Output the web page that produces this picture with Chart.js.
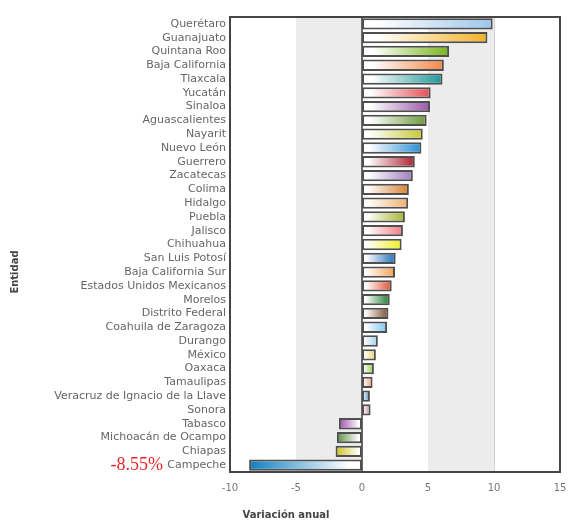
<!DOCTYPE html>
<html>
<head>
<meta charset="utf-8">
<script src="https://cdn.jsdelivr.net/npm/chart.js@4/dist/chart.umd.min.js"></script>
<style>
  html, body { margin: 0; padding: 0; background: #fff; }
  #wrap { width: 571px; height: 523px; position: relative; }
</style>
</head>
<body>
<div id="wrap"><canvas id="chartVariacion"></canvas></div>
<script>
const entidades = [
  'Querétaro', 'Guanajuato', 'Quintana Roo', 'Baja California', 'Tlaxcala',
  'Yucatán', 'Sinaloa', 'Aguascalientes', 'Nayarit', 'Nuevo León',
  'Guerrero', 'Zacatecas', 'Colima', 'Hidalgo', 'Puebla', 'Jalisco',
  'Chihuahua', 'San Luis Potosí', 'Baja California Sur',
  'Estados Unidos Mexicanos', 'Morelos', 'Distrito Federal',
  'Coahuila de Zaragoza', 'Durango', 'México', 'Oaxaca', 'Tamaulipas',
  'Veracruz de Ignacio de la Llave', 'Sonora', 'Tabasco',
  'Michoacán de Ocampo', 'Chiapas', 'Campeche'
];

const variacion = [
  9.9, 9.5, 6.6, 6.2, 6.1,
  5.2, 5.15, 4.9, 4.6, 4.5,
  4.0, 3.85, 3.55, 3.5, 3.25, 3.1,
  3.0, 2.55, 2.5,
  2.25, 2.1, 2.0,
  1.9, 1.2, 1.05, 0.9, 0.8,
  0.6, 0.65, -1.75,
  -1.9, -2.0, -8.55
];

const colores = [
  '#9cc6ec', '#f4b128', '#78b51c', '#f4884a', '#1d9797',
  '#e04f55', '#9a58a8', '#6b9a3a', '#c8c832', '#2a8fd8',
  '#ae1f30', '#a07fc2', '#d8802e', '#f0b06e', '#a6b52e', '#f07d82',
  '#eeee22', '#1f6fc0', '#f5a04e',
  '#de4f30', '#1f7f30', '#7e4f30',
  '#7ec6ee', '#9ecdee', '#eecf6e', '#8fce40', '#f0a06e',
  '#2f7fbf', '#cf7f90', '#a04fb0',
  '#5f8f40', '#d0bf20', '#0f7fbf'
];

const ticksX = [-10, -5, 0, 5, 10, 15];
const bandas = [[-5, 0], [5, 10]];

// fondo con franjas grises, marco y textos sueltos
const fondoPlugin = {
  id: 'fondo',
  beforeDatasetsDraw(chart) {
    const { ctx, chartArea, scales } = chart;
    ctx.save();
    for (const [a, b] of bandas) {
      const xa = scales.x.getPixelForValue(a);
      const xb = scales.x.getPixelForValue(b);
      ctx.fillStyle = '#ececec';
      ctx.fillRect(xa, chartArea.top, xb - xa, chartArea.bottom - chartArea.top);
      ctx.strokeStyle = '#d2d2d2';
      ctx.lineWidth = 1;
      ctx.beginPath();
      ctx.moveTo(Math.round(xb) + 0.5, chartArea.top);
      ctx.lineTo(Math.round(xb) + 0.5, chartArea.bottom);
      ctx.stroke();
    }
    // linea del cero
    const x0 = scales.x.getPixelForValue(0);
    ctx.strokeStyle = '#6a6a6a';
    ctx.lineWidth = 2;
    ctx.beginPath();
    ctx.moveTo(x0, chartArea.top);
    ctx.lineTo(x0, chartArea.bottom);
    ctx.stroke();
    ctx.restore();
  },
  afterDraw(chart) {
    const { ctx, chartArea, scales } = chart;
    ctx.save();
    ctx.strokeStyle = '#454545';
    ctx.lineWidth = 2;
    ctx.strokeRect(chartArea.left, chartArea.top, chartArea.right - chartArea.left, chartArea.bottom - chartArea.top);

    // titulos de ejes
    ctx.fillStyle = '#444';
    ctx.font = 'bold 10px "DejaVu Sans"';
    ctx.textAlign = 'center';
    ctx.textBaseline = 'middle';
    ctx.fillText('Variación anual', 286, 515);
    ctx.translate(15, 272);
    ctx.rotate(-Math.PI / 2);
    ctx.fillText('Entidad', 0, 0);
    ctx.restore();

    // etiqueta roja del valor minimo
    ctx.save();
    const i = entidades.length - 1;
    const y = scales.y.getPixelForValue(i);
    ctx.fillStyle = '#e8262a';
    ctx.font = '18px "Liberation Serif"';
    ctx.textAlign = 'right';
    ctx.textBaseline = 'middle';
    ctx.fillText(variacion[i].toFixed(2) + '%', 163, y);
    ctx.restore();
  }
};

const gradienteBarra = (c) => {
  const chart = c.chart;
  const i = c.dataIndex;
  if (!chart.chartArea || i === undefined) return colores[i] || '#999';
  const x = chart.scales.x;
  const x0 = x.getPixelForValue(0);
  const x1 = x.getPixelForValue(variacion[i]);
  const g = chart.ctx.createLinearGradient(x0, 0, x1 === x0 ? x0 + 1 : x1, 0);
  g.addColorStop(0, '#ffffff');
  g.addColorStop(0.12, '#ffffff');
  g.addColorStop(1, colores[i]);
  return g;
};

const initChartVariacion = () => {
  const ctx = document.getElementById('chartVariacion').getContext('2d');
  return new Chart(ctx, {
    type: 'bar',
    data: {
      labels: entidades,
      datasets: [{
        data: variacion,
        backgroundColor: gradienteBarra,
        borderColor: '#4f4f4f',
        borderWidth: 2,
        borderSkipped: false,
        barPercentage: 0.82,
        categoryPercentage: 1
      }]
    },
    options: {
      indexAxis: 'y',
      responsive: true,
      maintainAspectRatio: false,
      animation: false,
      layout: { padding: { top: 17, right: 11, left: 0, bottom: 0 } },
      plugins: { legend: { display: false }, tooltip: { enabled: false } },
      scales: {
        x: {
          min: -10,
          max: 15,
          afterBuildTicks: (s) => { s.ticks = ticksX.map(v => ({ value: v })); },
          afterFit: (s) => { s.height = 51; s.paddingLeft = 0; s.paddingRight = 0; },
          border: { display: false },
          grid: { display: false, drawTicks: false },
          ticks: {
            color: '#777',
            font: { family: 'DejaVu Sans', size: 10 },
            padding: 10
          }
        },
        y: {
          afterFit: (s) => { s.width = 230; },
          border: { display: false },
          grid: { display: false, drawTicks: false },
          ticks: {
            autoSkip: false,
            color: '#666',
            font: { family: 'DejaVu Sans', size: 11 },
            padding: 4
          }
        }
      }
    },
    plugins: [fondoPlugin]
  });
};

const chartVariacion = initChartVariacion();
</script>
</body>
</html>
